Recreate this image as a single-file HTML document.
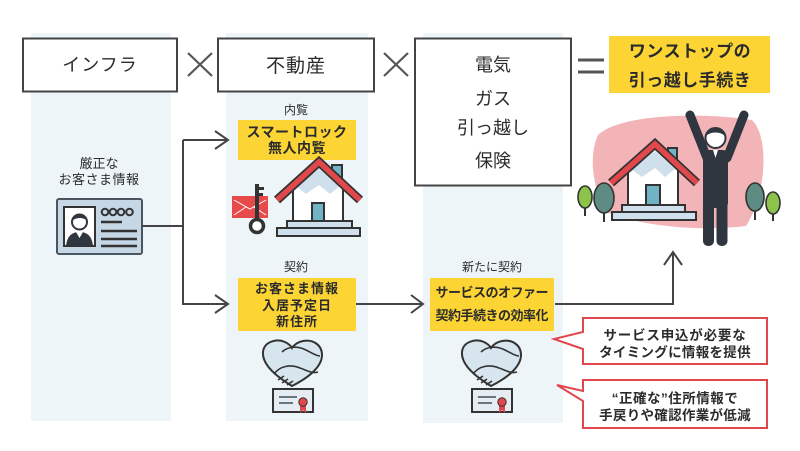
<!DOCTYPE html>
<html><head><meta charset="utf-8"><style>
html,body{margin:0;padding:0;background:#fff;}
svg{display:block;}
text{font-family:"Liberation Sans","Noto Sans CJK JP",sans-serif;fill:#2b2b2b;}
.b{font-weight:bold;}
</style></head><body>
<svg width="800" height="451" viewBox="0 0 800 451" xmlns="http://www.w3.org/2000/svg">
<rect width="800" height="451" fill="#fff"/>
<!-- column backgrounds -->
<rect x="31" y="33" width="140" height="388" fill="#eef5f9"/>
<rect x="226" y="33" width="142" height="388" fill="#eef5f9"/>
<rect x="423" y="33" width="140" height="390" fill="#eef5f9"/>
<!-- header boxes -->
<rect x="23" y="38.5" width="154" height="53" fill="#fff" stroke="#444" stroke-width="2"/>
<rect x="218" y="38.5" width="156" height="53" fill="#fff" stroke="#444" stroke-width="2"/>
<rect x="415" y="38.5" width="156" height="147" fill="#fff" stroke="#444" stroke-width="2"/>
<text x="100" y="71" font-size="18" text-anchor="middle" letter-spacing="1">インフラ</text>
<text x="296" y="72" font-size="19" text-anchor="middle" letter-spacing="1">不動産</text>
<text x="493" y="71" font-size="18" text-anchor="middle">電気</text>
<text x="493" y="105" font-size="18" text-anchor="middle">ガス</text>
<text x="493" y="134" font-size="18" text-anchor="middle">引っ越し</text>
<text x="493" y="167" font-size="18" text-anchor="middle">保険</text>
<!-- times & equals -->
<path d="M188 53 L212 76 M212 53 L188 76" stroke="#555" stroke-width="2.2" fill="none"/>
<path d="M384 53 L408 76 M408 53 L384 76" stroke="#555" stroke-width="2.2" fill="none"/>
<path d="M578 60 H604 M578 72 H604" stroke="#555" stroke-width="3" fill="none"/>
<!-- top-right yellow -->
<rect x="609" y="36" width="161" height="57" fill="#fcd535"/>
<text x="690" y="57" font-size="17" class="b" text-anchor="middle" letter-spacing="0.5">ワンストップの</text>
<text x="690" y="86" font-size="17" class="b" text-anchor="middle" letter-spacing="0.5">引っ越し手続き</text>

<!-- col1 text -->
<text x="99" y="168" font-size="13" text-anchor="middle">厳正な</text>
<text x="99" y="184" font-size="13" text-anchor="middle" letter-spacing="0.5">お客さま情報</text>
<!-- ID card -->
<rect x="57" y="199" width="85" height="55" rx="2" fill="#c6d8e6" stroke="#4a5560" stroke-width="2"/>
<rect x="64" y="207" width="31" height="39" fill="#fff" stroke="#333" stroke-width="2"/>
<path d="M66 246 C67 236 72 232 79.5 232 C87 232 92 236 93 246 Z" fill="#2f3640"/>
<path d="M76 232 L79.5 238 L83 232 Z" fill="#fff"/>
<circle cx="79.5" cy="222" r="7.5" fill="#fff" stroke="#2f3640" stroke-width="2"/>
<path d="M72 221 C72 213 87 213 87 221 C84 217 76 217 72 221 Z" fill="#2f3640"/>
<g fill="none" stroke="#333" stroke-width="2">
<circle cx="105" cy="212" r="3.3"/><circle cx="113" cy="212" r="3.3"/><circle cx="121" cy="212" r="3.3"/><circle cx="129.5" cy="212" r="3.3"/>
</g>
<path d="M101 222 H122 M101 231 H137 M101 239 H137 M101 246 H137" stroke="#333" stroke-width="2.5"/>

<!-- connectors -->
<g fill="none" stroke="#444" stroke-width="2">
<path d="M142 226 H183 M183 140 V305 M183 140 H228 M183 304 H228"/>
<path d="M215 131 L228 140 L215 149"/>
<path d="M215 295 L228 304 L215 313"/>
<path d="M356 304 H423"/>
<path d="M411 295 L423 304 L411 313"/>
<path d="M555 304 H673 V253"/>
<path d="M664 265 L673 252 L682 265"/>
</g>

<!-- col2 -->
<text x="296" y="114" font-size="12" text-anchor="middle">内覧</text>
<rect x="238" y="120" width="118" height="40" fill="#fcd535"/>
<text x="297" y="137" font-size="14" class="b" text-anchor="middle" letter-spacing="0.5">スマートロック</text>
<text x="297" y="153" font-size="14" class="b" text-anchor="middle" letter-spacing="0.5">無人内覧</text>
<!-- envelope & key -->
<rect x="232" y="196" width="36" height="22" fill="#e84a4a"/>
<path d="M234 200 L250 209 L266 200 M234 215 L246 207 M266 215 L254 207" stroke="#fff" stroke-width="1" fill="none"/>
<rect x="255" y="184" width="4" height="36" fill="#333"/>
<rect x="259" y="187" width="5" height="3" fill="#333"/>
<rect x="259" y="193" width="4" height="3" fill="#333"/>
<circle cx="257" cy="226" r="6.5" fill="#fff" stroke="#333" stroke-width="3.5"/>
<!-- house col2 -->
<rect x="332" y="165" width="10" height="20" fill="#6fb3c4" stroke="#333" stroke-width="2"/>
<path d="M293 221 V185 L319 165 L343 185 V221 Z" fill="#fff" stroke="#333" stroke-width="2"/>
<path d="M296 186 L319 169 L340 186 L330 194 L319 185 L306 194 Z" fill="#cfe0ec"/>
<polyline points="277,200 319,162 360,200" fill="none" stroke="#333" stroke-width="9" stroke-linejoin="miter"/>
<polyline points="277,200 319,162 360,200" fill="none" stroke="#e0484c" stroke-width="5.5" stroke-linejoin="miter"/>
<rect x="312" y="203" width="12" height="18" fill="#6fb3c4" stroke="#333" stroke-width="2"/>
<rect x="287" y="221" width="65" height="7" fill="#cfe0ec" stroke="#333" stroke-width="2"/>
<rect x="277" y="228" width="83" height="8" fill="#cfe0ec" stroke="#333" stroke-width="2"/>

<text x="296" y="271" font-size="12" text-anchor="middle">契約</text>
<rect x="238" y="278" width="118" height="53" fill="#fcd535"/>
<text x="297" y="293" font-size="13" class="b" text-anchor="middle" letter-spacing="1">お客さま情報</text>
<text x="297" y="310" font-size="13" class="b" text-anchor="middle" letter-spacing="1">入居予定日</text>
<text x="297" y="326" font-size="13" class="b" text-anchor="middle" letter-spacing="1">新住所</text>

<!-- handshake icons -->
<g id="hs">
<path d="M292 386 C272 374 262 363 263 352 C264 342 276 338 285 342 C289 344 291 346 292 348 C294 345 298 342 303 341 C313 339 322 345 322 355 C322 366 310 377 292 386 Z" fill="#d7e5ee" stroke="#333" stroke-width="2"/>
<path d="M274 374 C280 366 290 364 300 368 C306 370 312 374 318 372" fill="none" stroke="#333" stroke-width="1.6"/>
<path d="M282 352 C288 346 298 346 306 350 C312 353 316 356 320 356" fill="none" stroke="#333" stroke-width="1.6"/>
<path d="M278 380 L284 376 M282 383 L288 379 M287 385 L293 381" stroke="#333" stroke-width="1.6"/>
<rect x="273" y="389" width="40" height="23" fill="#e6edf2" stroke="#333" stroke-width="2"/>
<path d="M279 397 H297 M279 403 H293" stroke="#6a7580" stroke-width="2"/>
<path d="M300 404 L300 413 L303 410 L306 413 L306 404 Z" fill="#e0484c"/>
<circle cx="303" cy="402" r="4.2" fill="#e0484c" stroke="#333" stroke-width="1"/>
</g>
<use href="#hs" x="199" y="0"/>

<!-- col3 -->
<text x="492" y="271" font-size="12" text-anchor="middle">新たに契約</text>
<rect x="430" y="278" width="124" height="53" fill="#fcd535"/>
<text x="492" y="297" font-size="13" class="b" text-anchor="middle" textLength="113" lengthAdjust="spacing">サービスのオファー</text>
<text x="492" y="320" font-size="13" class="b" text-anchor="middle" textLength="113" lengthAdjust="spacing">契約手続きの効率化</text>

<!-- callouts -->
<path d="M583 318 H767 V364 H583 V349 L554 339 L583 332 Z" fill="#fff" stroke="#e0474c" stroke-width="2"/>
<text x="675" y="340" font-size="13.5" class="b" text-anchor="middle" letter-spacing="0.8">サービス申込が必要な</text>
<text x="675" y="357" font-size="13.5" class="b" text-anchor="middle" letter-spacing="0.3">タイミングに情報を提供</text>
<path d="M583 380 H767 V428 H583 V401 L557 385 L583 391 Z" fill="#fff" stroke="#e0474c" stroke-width="2"/>
<text x="675" y="403" font-size="13.5" class="b" text-anchor="middle" letter-spacing="0.5">“正確な”住所情報で</text>
<text x="675" y="420" font-size="13.5" class="b" text-anchor="middle" letter-spacing="0.3">手戻りや確認作業が低減</text>

<!-- right illustration -->
<path d="M598 135 C620 114 700 112 752 120 C770 138 766 195 746 226 C700 232 640 226 606 212 C590 182 590 152 598 135 Z" fill="#f3b4b8"/>
<!-- trees -->
<line x1="585" y1="205" x2="585" y2="216" stroke="#333" stroke-width="2"/>
<ellipse cx="585" cy="197" rx="7" ry="11" fill="#8cc34a" stroke="#333" stroke-width="1.6"/>
<line x1="604" y1="210" x2="604" y2="222" stroke="#333" stroke-width="2"/>
<ellipse cx="604" cy="198" rx="10" ry="15" fill="#5e8c84" stroke="#333" stroke-width="1.6"/>
<line x1="755" y1="208" x2="755" y2="220" stroke="#333" stroke-width="2"/>
<ellipse cx="755" cy="197" rx="9" ry="14" fill="#5e8c84" stroke="#333" stroke-width="1.6"/>
<line x1="773" y1="210" x2="773" y2="221" stroke="#333" stroke-width="2"/>
<ellipse cx="773" cy="203" rx="7" ry="11" fill="#8cc34a" stroke="#333" stroke-width="1.6"/>
<!-- house right -->
<rect x="668" y="148" width="9" height="18" fill="#6fb3c4" stroke="#333" stroke-width="2"/>
<path d="M628 205 V168 L655 147 L678 168 V205 Z" fill="#fff" stroke="#333" stroke-width="2"/>
<path d="M631 169 L655 151 L675 169 L665 177 L655 168 L642 177 Z" fill="#cfe0ec"/>
<polyline points="611,183 655,144 697,183" fill="none" stroke="#333" stroke-width="9"/>
<polyline points="611,183 655,144 697,183" fill="none" stroke="#e0484c" stroke-width="5.5"/>
<rect x="646" y="185" width="14" height="20" fill="#6fb3c4" stroke="#333" stroke-width="2"/>
<rect x="622" y="205" width="63" height="7" fill="#cfe0ec" stroke="#333" stroke-width="2"/>
<rect x="612" y="212" width="84" height="8" fill="#cfe0ec" stroke="#333" stroke-width="2"/>
<!-- person -->
<g fill="#2f3640" stroke="#2f3640">
<line x1="707" y1="158" x2="690" y2="115" stroke-width="9" stroke-linecap="round"/>
<line x1="727" y1="158" x2="744" y2="115" stroke-width="9" stroke-linecap="round"/>
<rect x="703" y="150" width="25" height="58" rx="5" stroke="none"/>
<rect x="703" y="200" width="11" height="46" rx="5" stroke="none"/>
<rect x="716.5" y="200" width="11" height="46" rx="5" stroke="none"/>
</g>
<path d="M713 150 L715.5 158 L718 150 Z" fill="#fff"/>
<circle cx="715.5" cy="138" r="10" fill="#fff" stroke="#2f3640" stroke-width="2"/>
<path d="M705.5 137 C705 125 726 125 725.5 137 C722 131 709 131 705.5 137 Z" fill="#2f3640"/>
</svg>
</body></html>
